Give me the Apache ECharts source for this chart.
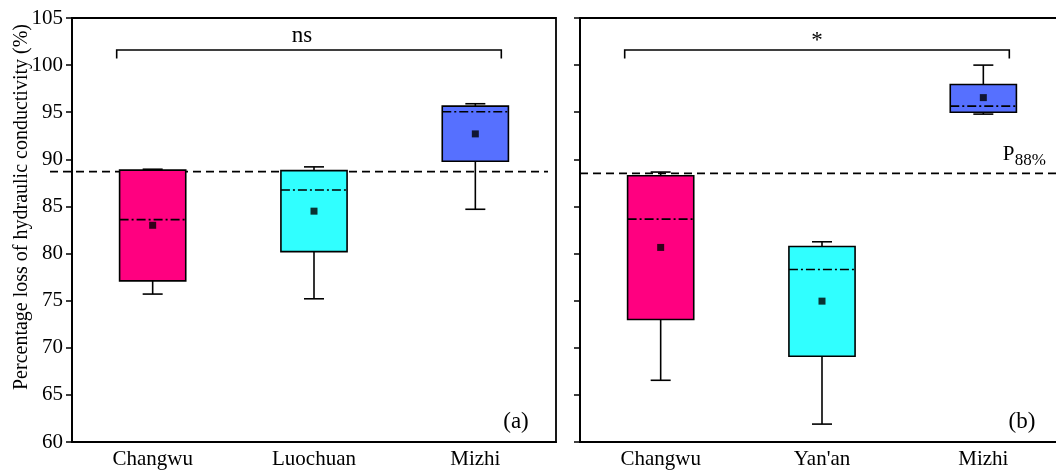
<!DOCTYPE html>
<html>
<head>
<meta charset="utf-8">
<script src="https://cdn.jsdelivr.net/npm/echarts@6/dist/echarts.min.js"></script>
<style>
html,body{margin:0;padding:0;background:#fff;}
#chart{width:1056px;height:474px;}
</style>
</head>
<body>
<div id="chart"></div>
<script>
// ---------- data ----------
const yTicks = { min: 60, max: 105, interval: 5 };
const yAxisTitle = 'Percentage loss of hydraulic conductivity (%)';

const catsA = ['Changwu', 'Luochuan', 'Mizhi'];
const minA = [75.7, 75.2, 84.7];
const q1A = [77.1, 80.2, 89.8];
const medianA = [83.6, 86.75, 95.05];
const q3A = [88.85, 88.8, 95.65];
const maxA = [88.95, 89.2, 95.9];
const meanA = [83.0, 84.5, 92.7];
const p88A = 88.7;
const sigA = 'ns';
const labelA = '(a)';

const catsB = ['Changwu', "Yan'an", 'Mizhi'];
const minB = [66.55, 61.9, 94.8];
const q1B = [73.0, 69.1, 95.0];
const medianB = [83.65, 78.3, 95.65];
const q3B = [88.25, 80.75, 97.95];
const maxB = [88.65, 81.25, 100.0];
const meanB = [80.65, 74.95, 96.55];
const p88B = 88.5;
const sigB = '*';
const labelB = '(b)';

const bracketTop = 101.6;
const bracketEnd = 100.7;

const boxColors = ['#FF0080', '#30FFFF', '#5670FF'];
const FONT = '"Liberation Serif", "Times New Roman", serif';

// ---------- helpers ----------
function boxData(mn, q1, md, q3, mx) {
  return mn.map((v, i) => [i, mn[i], q1[i], md[i], q3[i], mx[i]]);
}
function meanData(m) { return m.map((v, i) => [i, v]); }

function renderBox(params, api) {
  const i = api.value(0);
  const pMin = api.coord([i, api.value(1)]);
  const pQ1 = api.coord([i, api.value(2)]);
  const pMed = api.coord([i, api.value(3)]);
  const pQ3 = api.coord([i, api.value(4)]);
  const pMax = api.coord([i, api.value(5)]);
  const bw = api.size([1, 0])[0];
  const half = bw * 0.205;
  const cap = bw * 0.062;
  const x = pMin[0];
  const ls = { stroke: '#000', lineWidth: 1.6 };
  return {
    type: 'group',
    children: [
      { type: 'line', shape: { x1: x, y1: pMax[1], x2: x, y2: pQ3[1] }, style: ls },
      { type: 'line', shape: { x1: x - cap, y1: pMax[1], x2: x + cap, y2: pMax[1] }, style: ls },
      { type: 'line', shape: { x1: x, y1: pQ1[1], x2: x, y2: pMin[1] }, style: ls },
      { type: 'line', shape: { x1: x - cap, y1: pMin[1], x2: x + cap, y2: pMin[1] }, style: ls },
      { type: 'rect', shape: { x: x - half, y: pQ3[1], width: half * 2, height: pQ1[1] - pQ3[1] },
        style: { fill: boxColors[params.dataIndex], stroke: '#000', lineWidth: 1.6 } },
      { type: 'line', shape: { x1: x - half, y1: pMed[1], x2: x + half, y2: pMed[1] },
        style: { stroke: '#000', lineWidth: 1.6, lineDash: [9, 3, 2, 3] } }
    ]
  };
}

function makeRefRenderer(opts) {
  return function (params, api) {
    const cs = params.coordSys;
    const y = api.coord([0, api.value(0)])[1];
    const children = [
      { type: 'line', shape: { x1: cs.x - opts.extendLeft, y1: y, x2: cs.x + cs.width - opts.trimRight, y2: y },
        style: { stroke: '#000', lineWidth: 1.8, lineDash: [8, 5] } },
      { type: 'text', x: cs.x + cs.width - opts.labelRight, y: cs.y + cs.height - 20,
        style: { text: opts.label, font: '23px ' + FONT, fill: '#000', align: 'center', verticalAlign: 'middle' } }
    ];
    if (opts.pLabel) {
      const p = api.coord([2, api.value(0)]);
      const bw = api.size([1, 0])[0];
      children.push({ type: 'text', x: p[0] + bw * 0.12, y: y - 8,
        style: { text: 'P', font: '21px ' + FONT, fill: '#000', align: 'left', verticalAlign: 'bottom' } });
      children.push({ type: 'text', x: p[0] + bw * 0.12 + 12, y: y - 4,
        style: { text: '88%', font: '17px ' + FONT, fill: '#000', align: 'left', verticalAlign: 'bottom' } });
    }
    return { type: 'group', children };
  };
}

function makeBracketRenderer(text, textDx, textDy) {
  return function (params, api) {
    const a = api.coord([api.value(0), api.value(2)]);
    const b = api.coord([api.value(1), api.value(2)]);
    const e = api.coord([api.value(1), api.value(3)]);
    const bw = api.size([1, 0])[0];
    const x1 = a[0] - bw * 0.223;
    const x2 = b[0] + bw * 0.161;
    const ls = { stroke: '#000', lineWidth: 1.6, fill: 'none' };
    return {
      type: 'group',
      children: [
        { type: 'polyline', shape: { points: [[x1, e[1]], [x1, a[1]], [x2, a[1]], [x2, e[1]]] }, style: ls },
        { type: 'text', x: (x1 + x2) / 2 + textDx, y: a[1] - textDy,
          style: { text: text, font: '23px ' + FONT, fill: '#000', align: 'center', verticalAlign: 'bottom' } }
      ]
    };
  };
}

function xAxisCfg(cats, idx) {
  return {
    type: 'category', data: cats, gridIndex: idx,
    axisLine: { lineStyle: { color: '#000', width: 1.8 } },
    axisTick: { alignWithLabel: true, length: 5, lineStyle: { color: '#000', width: 1.5 } },
    axisLabel: { color: '#000', fontFamily: FONT, fontSize: 21, margin: 7 },
    splitLine: { show: false }
  };
}
function yAxisCfg(idx, showLabels) {
  return {
    type: 'value', gridIndex: idx, min: yTicks.min, max: yTicks.max, interval: yTicks.interval,
    axisLine: { show: true, lineStyle: { color: '#000', width: 1.8 } },
    axisTick: { show: true, length: 6, lineStyle: { color: '#000', width: 1.5 } },
    axisLabel: { show: showLabels, color: '#000', fontFamily: FONT, fontSize: 21, margin: 9 },
    splitLine: { show: false }
  };
}

const chart = echarts.init(document.getElementById('chart'), null, { renderer: 'canvas' });
chart.setOption({
  animation: false,
  backgroundColor: '#fff',
  grid: [
    { left: 72, top: 18, width: 484, height: 424, show: true, borderColor: '#000', borderWidth: 1.8, outerBoundsMode: 'none', containLabel: false },
    { left: 580, top: 18, width: 484, height: 424, show: true, borderColor: '#000', borderWidth: 1.8, outerBoundsMode: 'none', containLabel: false }
  ],
  xAxis: [xAxisCfg(catsA, 0), xAxisCfg(catsB, 1)],
  yAxis: [yAxisCfg(0, true), yAxisCfg(1, false)],
  graphic: [{
    type: 'text', x: 22, y: 207, rotation: Math.PI / 2,
    style: { text: yAxisTitle, font: '20px ' + FONT, fill: '#000', align: 'center', verticalAlign: 'middle' }
  }],
  series: [
    { type: 'custom', xAxisIndex: 0, yAxisIndex: 0, renderItem: makeRefRenderer({ extendLeft: 22, trimRight: 8, labelRight: 40, label: labelA, pLabel: false }), data: [[p88A]], z: 1 },
    { type: 'custom', xAxisIndex: 1, yAxisIndex: 1, renderItem: makeRefRenderer({ extendLeft: 0, trimRight: 0, labelRight: 42, label: labelB, pLabel: true }), data: [[p88B]], z: 1 },
    { type: 'custom', xAxisIndex: 0, yAxisIndex: 0, renderItem: renderBox, data: boxData(minA, q1A, medianA, q3A, maxA), z: 3 },
    { type: 'custom', xAxisIndex: 1, yAxisIndex: 1, renderItem: renderBox, data: boxData(minB, q1B, medianB, q3B, maxB), z: 3 },
    { type: 'scatter', xAxisIndex: 0, yAxisIndex: 0, symbol: 'rect', symbolSize: 7, itemStyle: { color: '#000' }, data: meanData(meanA), z: 5 },
    { type: 'scatter', xAxisIndex: 1, yAxisIndex: 1, symbol: 'rect', symbolSize: 7, itemStyle: { color: '#000' }, data: meanData(meanB), z: 5 },
    { type: 'custom', xAxisIndex: 0, yAxisIndex: 0, renderItem: makeBracketRenderer(sigA, -7, 3), data: [[0, 2, bracketTop, bracketEnd]], z: 2 },
    { type: 'custom', xAxisIndex: 1, yAxisIndex: 1, renderItem: makeBracketRenderer(sigB, 0, -2), data: [[0, 2, bracketTop, bracketEnd]], z: 2 }
  ]
});
</script>
</body>
</html>
